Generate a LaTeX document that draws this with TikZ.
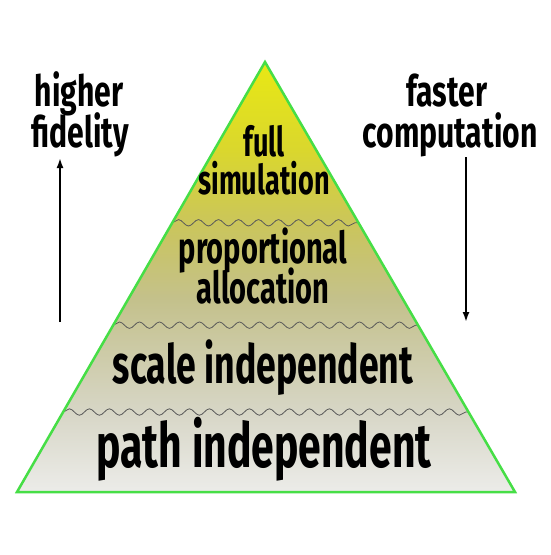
\documentclass[tikz,border=0pt]{standalone}
\usepackage{fontspec}
\setmainfont[FakeStretch=0.66]{Fira Sans}
\newfontfamily\sidefont[FakeStretch=0.7]{Fira Sans}
\usetikzlibrary{calc,arrows.meta,decorations.pathmorphing}

\definecolor{pyrgreen}{RGB}{70,222,70}
\definecolor{pyrA}{RGB}{232,232,20}
\definecolor{pyrB}{RGB}{218,215,45}
\definecolor{pyrC}{RGB}{202,197,92}
\definecolor{pyrD}{RGB}{196,193,140}
\definecolor{pyrE}{RGB}{215,214,198}
\definecolor{pyrF}{RGB}{236,236,233}
\pgfdeclareverticalshading{pyrshade}{100bp}{color(0bp)=(pyrF); color(25bp)=(pyrF); color(34.3bp)=(pyrE); color(47.3bp)=(pyrD); color(56bp)=(pyrC); color(64.8bp)=(pyrB); color(75bp)=(pyrA); color(100bp)=(pyrA)}

\begin{document}
\begin{tikzpicture} [x=1pt, y=-1pt,
		lbl/.style={inner sep=0pt, anchor=base, font=\bfseries},
		side/.style={inner sep=0pt, anchor=base, font=\sidefont\bfseries\fontsize{43}{43}\selectfont},
		wave/.style={draw=black!65, line width=0.8pt, decorate, decoration={snake, segment length=20pt, amplitude=3.2pt}},
		arr/.style={line width=1.8pt, -{Latex[length=10pt, width=7pt]}}]

			\useasboundingbox (0,0) rectangle (551,555);

			\coordinate (top) at (265,62);
			\coordinate (bl) at (17,492);
			\coordinate (br) at (515,492);

			\shade [shading=pyrshade] (top) -- (bl) -- (br) -- cycle;

			\draw [wave] ($(top)!0.374!(bl)$) -- ($(top)!0.374!(br)$);
			\draw [wave] ($(top)!0.612!(bl)$) -- ($(top)!0.612!(br)$);
			\draw [wave] ($(top)!0.814!(bl)$) -- ($(top)!0.814!(br)$);

			\draw [pyrgreen, line width=2.5pt, line join=miter] (top) -- (bl) -- (br) -- cycle;

			\node [lbl, font=\bfseries\fontsize{41}{41}\selectfont] (full) at (264,156) {full};
			\node [lbl, font=\bfseries\fontsize{41}{41}\selectfont] (simul) at (264,194) {simulation};
			\node [lbl, font=\bfseries\fontsize{44}{44}\selectfont] (propo) at (263,263) {proportional};
			\node [lbl, font=\bfseries\fontsize{44}{44}\selectfont] (alloc) at (263,303) {allocation};
			\node [lbl, font=\bfseries\fontsize{54}{54}\selectfont] (scale) at (263,383) {scale independent};
			\node [lbl, font=\bfseries\fontsize{62}{62}\selectfont] (path) at (264,467) {path independent};

			\node [side] (higher) at (79,106) {higher};
			\node [side] (fidel) at (80,147) {fidelity};
			\node [side] (faster) at (447,106) {faster};
			\node [side] (comput) at (450,147) {computation};

			\coordinate (fidlow) at (60,322);
			\coordinate (fidup) at (60,158);
			\coordinate (comphigh) at (466,157);
			\coordinate (complow) at (466,322);

			\draw [arr] (fidlow) -- (fidup);
			\draw [arr] (comphigh) -- (complow);
		\end{tikzpicture}
\end{document}
